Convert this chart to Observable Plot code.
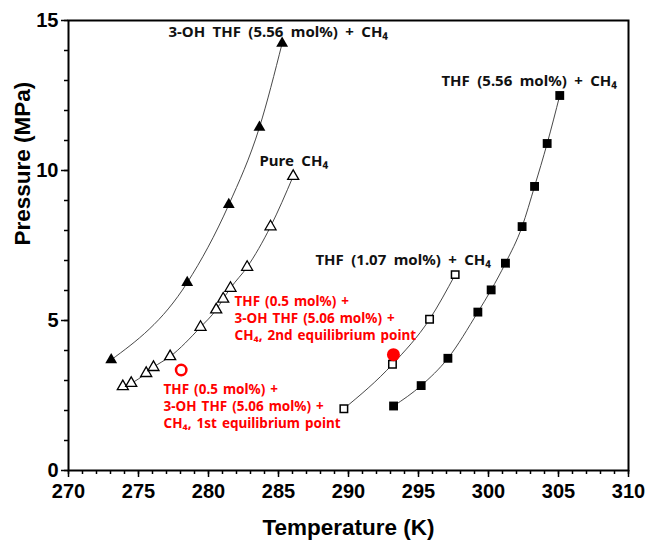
<!DOCTYPE html>
<html>
<head>
<meta charset="utf-8">
<script src="https://cdn.jsdelivr.net/npm/d3@7"></script>
<script src="https://cdn.jsdelivr.net/npm/@observablehq/plot@0.6"></script>
<style>
  html, body { margin: 0; padding: 0; background: #fff; }
  svg { display: block; }
</style>
</head>
<body>
<div id="chart"></div>
<script>
// ---- data ----
const ohT = [273.05, 278.48, 281.45, 283.64, 285.26];          // 3-OH THF (5.56 mol%) + CH4
const ohP = [3.69, 6.26, 8.86, 11.44, 14.24];
const ch4T = [273.88, 274.48, 275.55, 276.07, 277.26, 279.43, 280.55, 281.05, 281.57, 282.76, 284.43, 286.05]; // Pure CH4
const ch4P = [2.80, 2.91, 3.24, 3.44, 3.80, 4.78, 5.36, 5.72, 6.08, 6.78, 8.13, 9.81];
const thf107T = [289.67, 293.14, 295.79, 297.62];               // THF (1.07 mol%) + CH4
const thf107P = [2.06, 3.54, 5.04, 6.53];
const thf556T = [293.22, 295.19, 297.10, 299.24, 300.19, 301.21, 302.40, 303.29, 304.19, 305.09]; // THF (5.56 mol%) + CH4
const thf556P = [2.15, 2.83, 3.74, 5.28, 6.02, 6.91, 8.13, 9.47, 10.90, 12.50];
const mix1T = [278.05];  const mix1P = [3.35];   // 1st equilibrium point
const mix2T = [293.21];  const mix2P = [3.86];   // 2nd equilibrium point

const xMajor = [270, 275, 280, 285, 290, 295, 300, 305, 310];
const xMinor = d3.range(270, 311, 1);
const yMajor = [0, 5, 10, 15];
const yMinor = d3.range(0, 16, 1);

const blackLabels = ["3-OH THF (5.56 mol%) + CH₄", "THF (5.56 mol%) + CH₄", "Pure CH₄", "THF (1.07 mol%) + CH₄"];
const blackLabelT = [277.14, 296.64, 283.64, 287.64];
const blackLabelP = [14.6, 12.97, 10.3, 7.0];
const redLabels = [
  "THF (0.5 mol%) +\n3-OH THF (5.06 mol%) +\nCH₄, 2nd equilibrium point",
  "THF (0.5 mol%) +\n3-OH THF (5.06 mol%) +\nCH₄, 1st equilibrium point"
];
const redLabelT = [281.86, 276.79];
const redLabelP = [5.1, 2.17];

const zip = (T, P) => T.map((t, i) => ({T: t, P: P[i]}));
const oh = zip(ohT, ohP), ch4 = zip(ch4T, ch4P), t107 = zip(thf107T, thf107P), t556 = zip(thf556T, thf556P);
const m1 = zip(mix1T, mix1P), m2 = zip(mix2T, mix2P);
const bl = blackLabels.map((s, i) => ({s, T: blackLabelT[i], P: blackLabelP[i]}));
const rl = redLabels.map((s, i) => ({s, T: redLabelT[i], P: redLabelP[i]}));

const lineOpts = {x: "T", y: "P", stroke: "#333", strokeWidth: 0.9, curve: "monotone-x"};
const annFont = "'Noto Sans', 'Open Sans', sans-serif";

const chart = Plot.plot({
  width: 646, height: 542,
  marginLeft: 68, marginRight: 18, marginTop: 20, marginBottom: 72,
  x: {domain: [270, 310]},
  y: {domain: [0, 15]},
  style: {fontFamily: "'Liberation Sans', Arial, sans-serif", fontSize: "20px", fontWeight: "bold", color: "#000", background: "#fff"},
  marks: [
    Plot.axisX(xMinor, {tickSize: 4, tickFormat: () => "", label: null, strokeWidth: 1.5}),
    Plot.axisX(xMajor, {tickSize: 7, tickPadding: 6, label: null, strokeWidth: 1.5, fontSize: 20, fontWeight: "bold"}),
    Plot.axisY(yMinor, {tickSize: 4, tickFormat: () => "", label: null, strokeWidth: 1.5}),
    Plot.axisY(yMajor, {tickSize: 7, tickPadding: 3, label: null, strokeWidth: 1.5, fontSize: 20, fontWeight: "bold"}),
    Plot.frame({stroke: "#000", strokeWidth: 2}),
    Plot.text(["Temperature (K)"], {frameAnchor: "bottom", dy: 57, lineAnchor: "middle", fontSize: 22.5, fontWeight: "bold"}),
    Plot.text(["Pressure (MPa)"], {frameAnchor: "left", dx: -46, rotate: -90, fontSize: 22.5, fontWeight: "bold"}),
    Plot.line(oh, lineOpts),
    Plot.line(ch4, lineOpts),
    Plot.line(t107, lineOpts),
    Plot.line(t556, lineOpts),
    Plot.dot(oh, {x: "T", y: "P", symbol: "triangle", r: 4.4, fill: "#000", stroke: "none"}),
    Plot.dot(ch4, {x: "T", y: "P", symbol: "triangle", r: 4.1, fill: "#fff", stroke: "#000", strokeWidth: 1.3}),
    Plot.dot(t107, {x: "T", y: "P", symbol: "square", r: 4.2, fill: "#fff", stroke: "#000", strokeWidth: 1.5}),
    Plot.dot(t556, {x: "T", y: "P", symbol: "square", r: 5, fill: "#000", stroke: "none"}),
    Plot.dot(m2, {x: "T", y: "P", r: 6.5, fill: "#ff0000", stroke: "none"}),
    Plot.dot(m1, {x: "T", y: "P", r: 5.2, fill: "none", stroke: "#ff0000", strokeWidth: 2.5}),
    Plot.text(bl, {x: "T", y: "P", text: "s", textAnchor: "start", fontFamily: annFont, fontSize: 15, fontWeight: "bold", fill: "#111"}),
    Plot.text(rl, {x: "T", y: "P", text: "s", textAnchor: "start", lineAnchor: "middle", lineHeight: 1.25, fontFamily: annFont, fontSize: 13.5, fontWeight: "bold", fill: "#ff0000"})
  ]
});
// wider word gaps, as in the reference's font
d3.select(chart).selectAll("text").each(function () {
  const t = this.textContent;
  if (t.includes("mol%") || t.includes("Pure")) {
    const red = this.closest("g") && (this.closest("g").getAttribute("fill") === "#ff0000" || this.getAttribute("fill") === "#ff0000");
    this.style.wordSpacing = red ? "1.5px" : "3.5px";
  }
});
document.getElementById("chart").appendChild(chart);
</script>
</body>
</html>
